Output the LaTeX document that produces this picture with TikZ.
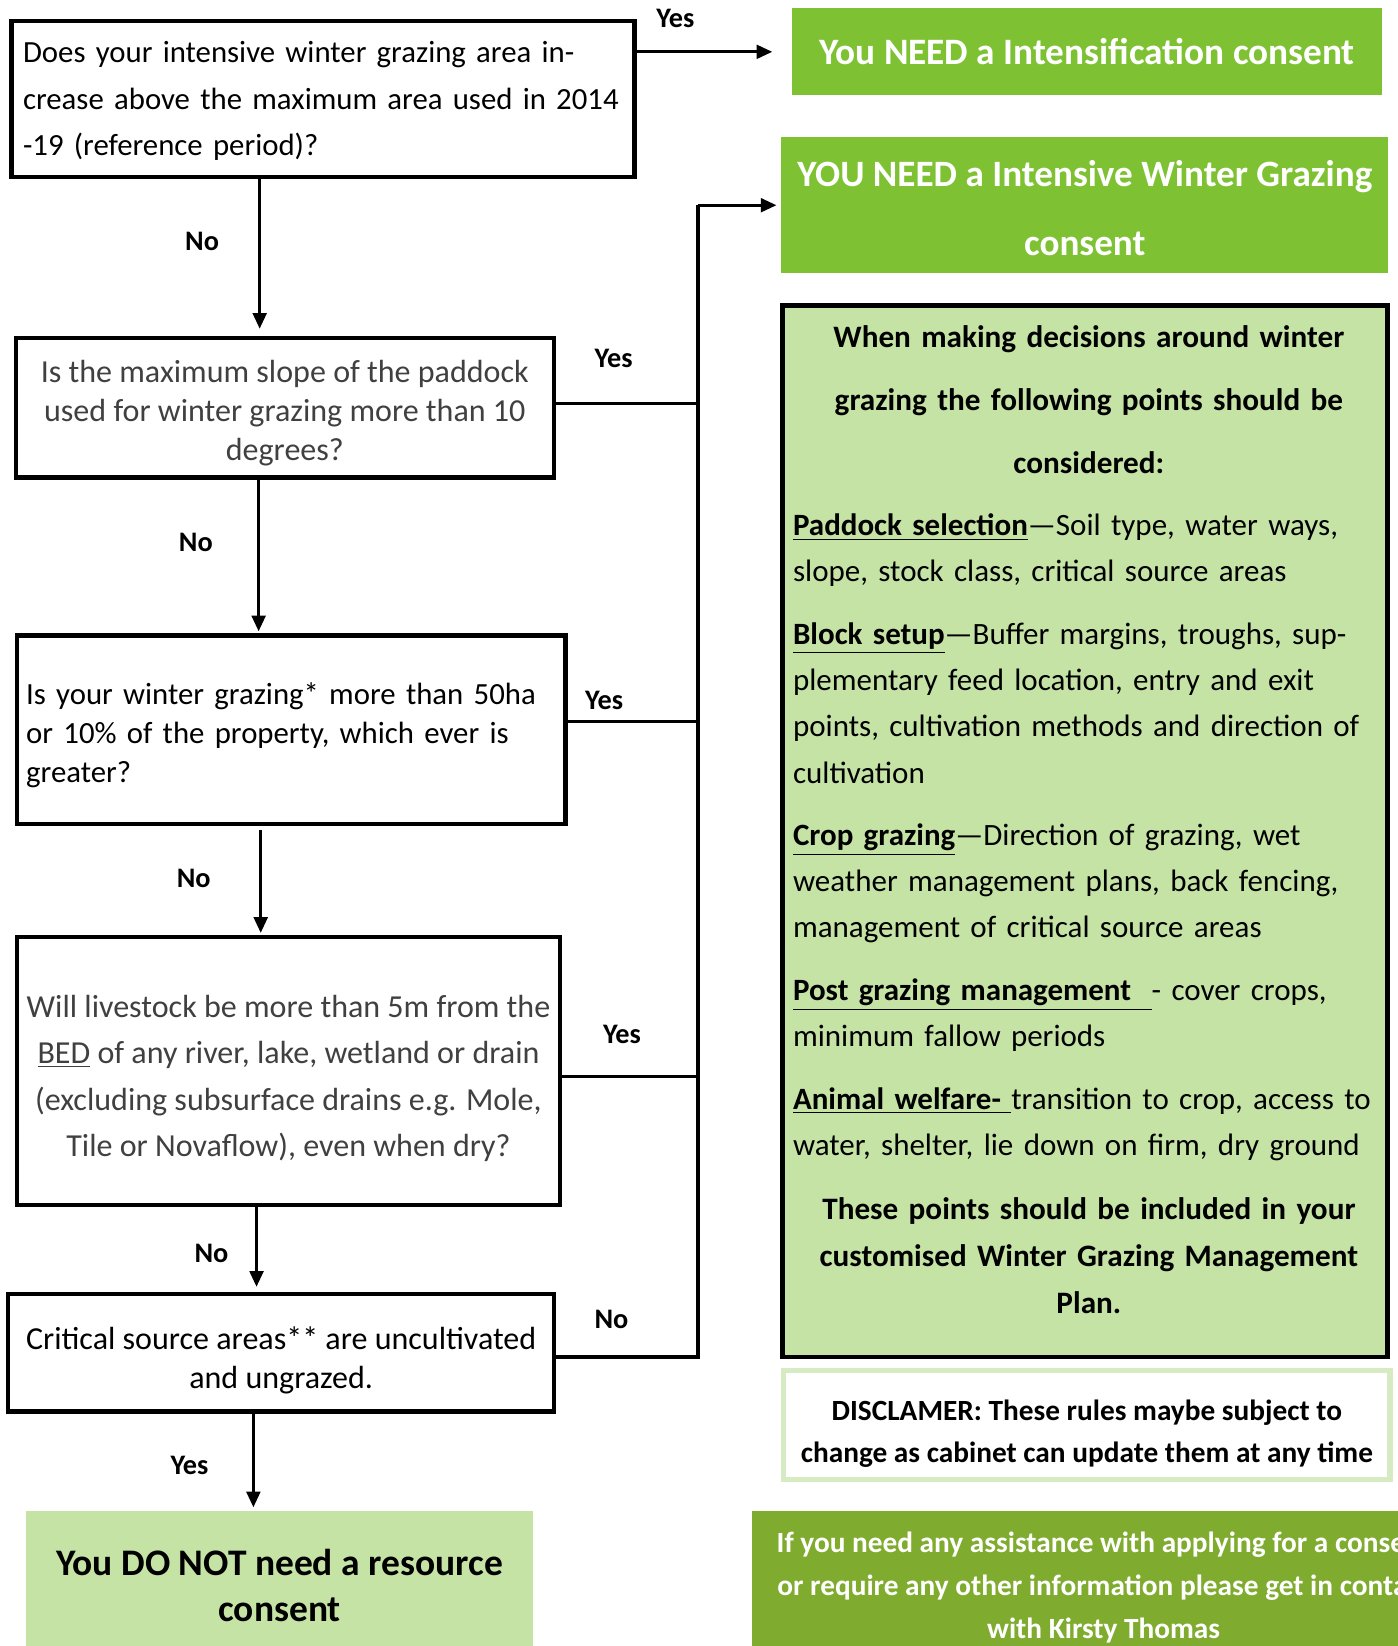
\documentclass[tikz,border=0pt]{standalone}
\usepackage{fontspec}
\setmainfont{Carlito}
\usetikzlibrary{arrows.meta}
\newdimen\pu \pu=0.5pt
\newcommand{\tup}[1]{\rule{0pt}{#1}}
\definecolor{hgreen}{RGB}{126,194,52}
\definecolor{lgreen}{RGB}{197,227,165}
\definecolor{dgreen}{RGB}{127,172,46}
\definecolor{dborder}{RGB}{215,235,195}
\definecolor{qgray}{RGB}{64,64,64}
\begin{document}
\begin{tikzpicture}[x=0.5pt,y=-0.5pt,
  qbox/.style={draw=black, line width=2pt, inner sep=0pt, font=\fontsize{15}{22}\selectfont},
  conn/.style={line width=1.5pt, line join=miter},
  arr/.style={conn, -{Triangle[width=6.5pt,length=7.5pt]}},
  lab/.style={font=\bfseries\fontsize{13.5}{15}\selectfont, inner sep=0pt},
  hbox/.style={fill=hgreen, inner sep=0pt, text=white, align=center},
  ]
\useasboundingbox (0,0) rectangle (1335,1572);
\clip (0,0) rectangle (1335,1572);
\fill[white] (0,0) rectangle (1335,1572);

% question boxes
\node[qbox, minimum width=595\pu, minimum height=149\pu, text width=573\pu, align=left, font=\fontsize{14.7}{22.2}\selectfont] (box1) at (308.5,94.5)
  {\tup{12pt}\mbox{Does your intensive winter grazing area in-}\\\mbox{crease above the maximum area used in 2014}\\\mbox{-19 (reference period)?}};
\node[qbox, minimum width=514\pu, minimum height=133\pu, align=center, text=qgray, font=\fontsize{15.3}{18.5}\selectfont] (box2) at (272,389.5)
  {\tup{15.8pt}Is the maximum slope of the paddock\\used for winter grazing more than 10\\degrees?};
\node[qbox, minimum width=524\pu, minimum height=180\pu, text width=506\pu, align=left, font=\fontsize{14.7}{18.6}\selectfont] (box3) at (278,697)
  {\tup{15.3pt}\mbox{Is your winter grazing* more than 50ha}\\\mbox{or 10\% of the property, which ever is}\\greater?};
\node[qbox, minimum width=519\pu, minimum height=256\pu, align=center, text=qgray, font=\fontsize{15.3}{22.2}\selectfont] (box4) at (275.5,1023)
  {\tup{17.5pt}Will livestock be more than 5m from the\\\underline{BED} of any river, lake, wetland or drain\\(excluding subsurface drains e.g. Mole,\\Tile or Novaflow), even when dry?};
\node[qbox, minimum width=521\pu, minimum height=112\pu, align=center, font=\fontsize{15.3}{19}\selectfont] (box5) at (268.5,1292)
  {\tup{18pt}Critical source areas** are uncultivated\\and ungrazed.};
\node[fill=lgreen, inner sep=0pt, minimum width=484\pu, minimum height=134\pu, align=center, font=\bfseries\fontsize{17.9}{22}\selectfont] (final) at (267,1510)
  {\tup{16.5pt}You DO NOT need a resource\\consent};

% right column
\node[hbox, minimum width=564\pu, minimum height=83\pu, font=\bfseries\fontsize{17.8}{22}\selectfont] (green1) at (1038,49.5)
  {You NEED a Intensification consent};
\node[hbox, minimum width=580\pu, minimum height=130\pu, font=\bfseries\fontsize{17.75}{33}\selectfont] (green2) at (1036,196)
  {\tup{15pt}YOU NEED a Intensive Winter Grazing\\consent};
\node[draw=black, line width=2.3pt, fill=lgreen, minimum width=578\pu, minimum height=1004\pu, inner sep=0pt] (info) at (1036,794) {};
\node[anchor=north west, inner sep=0pt, text width=565\pu, font=\fontsize{14.8}{22}\selectfont] (infotext) at (757,310.5) {%
\setlength{\parskip}{8pt}%
{\centering\bfseries\fontsize{14.9}{30}\selectfont When making decisions around winter\\grazing the following points should be\\considered:\par}
\raggedright
\underline{\textbf{Paddock selection}}—Soil type, water ways,\\slope, stock class, critical source areas\par
\underline{\textbf{Block setup}}—Buffer margins, troughs, sup-\\plementary feed location, entry and exit\\points, cultivation methods and direction of\\cultivation\par
\underline{\textbf{Crop grazing}}—Direction of grazing, wet\\weather management plans, back fencing,\\management of critical source areas\par
\underline{\textbf{Post grazing management\ \ }}- cover crops,\\minimum fallow periods\par
\underline{\textbf{Animal welfare-\ }}transition to crop, access to\\water, shelter, lie down on firm, dry ground\par
{\centering\bfseries\fontsize{14.9}{22.5}\selectfont These points should be included in your\\customised Winter Grazing Management\\Plan.\par}
};
\node[draw=dborder, line width=2.5pt, fill=white, minimum width=579\pu, minimum height=104\pu, inner sep=0pt, align=center, font=\bfseries\fontsize{14}{20}\selectfont] (disc) at (1038,1361)
  {\tup{17.8pt}DISCLAMER: These rules maybe subject to\\change as cabinet can update them at any time};
\node[fill=dgreen, minimum width=672\pu, minimum height=134\pu, inner sep=0pt, align=center, text=white, font=\bfseries\fontsize{14}{20.5}\selectfont] (assist) at (1054,1510)
  {\tup{16.2pt}If you need any assistance with applying for a consent\\or require any other information please get in contact\\with Kirsty Thomas};

% connectors
\draw[arr] (box1.east |- green1.west) -- ([xshift=-18\pu]green1.west);
\coordinate (trunktop) at ([xshift=-79\pu]green2.west);
\coordinate (y2) at ([yshift=4.5\pu]box2.east);
\coordinate (y3) at ([yshift=8\pu]box3.east);
\coordinate (y4) at ([yshift=-5\pu]box4.east);
\coordinate (y5) at ([yshift=-4\pu]box5.east);
\draw[conn] (y5) -| (trunktop);
\draw[arr] (trunktop) -- ([xshift=-4\pu]green2.west);
\draw[conn] (y2) -- (y2 -| trunktop);
\draw[conn] (y3) -- (y3 -| trunktop);
\draw[conn] (y4) -- (y4 -| trunktop);

\coordinate (d1) at ([xshift=-60.5\pu]box1.south);
\draw[arr, shorten >=7\pu] (d1) -- (d1 |- box2.north);
\coordinate (d2) at ([xshift=-25\pu]box2.south);
\draw[arr, shorten >=2\pu] (d2) -- (d2 |- box3.north);
\coordinate (d3) at ([xshift=-29\pu,yshift=-4\pu]box3.south);
\draw[arr, shorten >=2\pu] (d3) -- (d3 |- box4.north);
\coordinate (d4) at ([xshift=-30.5\pu]box4.south);
\draw[arr, shorten >=5\pu] (d4) -- (d4 |- box5.north);
\coordinate (d5) at ([xshift=-26.5\pu]box5.south);
\draw[arr, shorten >=3\pu] (d5) -- (d5 |- final.north);

% labels
\node[lab] (l1) at (645,18) {Yes};
\node[lab] (l2) at (193,231) {No};
\node[lab] (l3) at (586,342) {Yes};
\node[lab] (l4) at (187,518) {No};
\node[lab] (l5) at (577,669) {Yes};
\node[lab] (l6) at (185,839) {No};
\node[lab] (l7) at (594,988) {Yes};
\node[lab] (l8) at (202,1197) {No};
\node[lab] (l9) at (584,1260) {No};
\node[lab] (l10) at (181,1400) {Yes};
\end{tikzpicture}
\end{document}
